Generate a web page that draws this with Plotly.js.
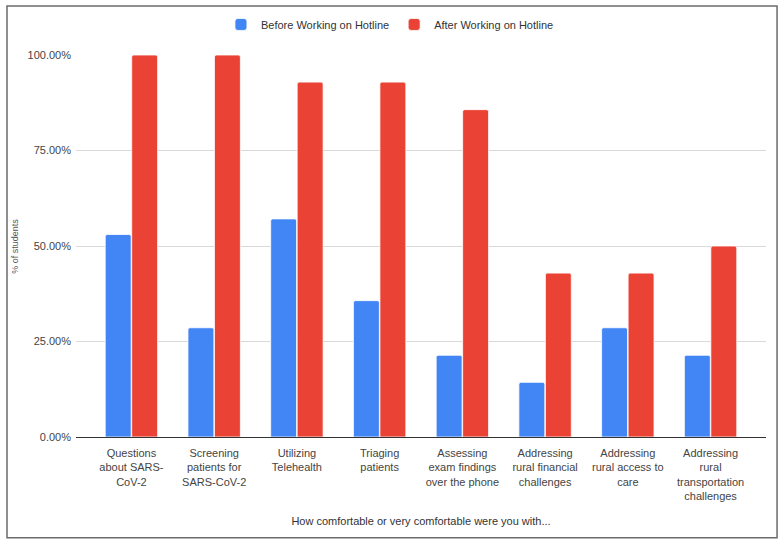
<!DOCTYPE html>
<html>
<head>
<meta charset="utf-8">
<script src="https://cdn.plot.ly/plotly-3.0.1.min.js"></script>
<style>
  html, body { margin: 0; padding: 0; background: #fff; }
  #chart { width: 784px; height: 546px; }
</style>
</head>
<body>
<div id="chart"></div>
<script>
  // 類別（x 軸標籤，已手動換行）
  var categories = [
    "Questions<br>about SARS-<br>CoV-2",
    "Screening<br>patients for<br>SARS-CoV-2",
    "Utilizing<br>Telehealth",
    "Triaging<br>patients",
    "Assessing<br>exam findings<br>over the phone",
    "Addressing<br>rural financial<br>challenges",
    "Addressing<br>rural access to<br>care",
    "Addressing<br>rural<br>transportation<br>challenges"
  ];
  var beforeValues = [0.53, 0.286, 0.571, 0.357, 0.214, 0.143, 0.286, 0.214];
  var afterValues  = [1.00, 1.00, 0.929, 0.929, 0.857, 0.429, 0.429, 0.50];
  var yTicks = [0, 0.25, 0.5, 0.75, 1.0];
  var yTickText = ["0.00%", "25.00%", "50.00%", "75.00%", "100.00%"];

  var FG = "#444";
  var xIdx = categories.map(function (c, i) { return i; });

  var traces = [
    { type: "bar", name: "Before Working on Hotline", x: xIdx, y: beforeValues,
      marker: { color: "#4285F4", line: { color: "#fff", width: 0.8 } }, hoverinfo: "y" },
    { type: "bar", name: "After Working on Hotline", x: xIdx, y: afterValues,
      marker: { color: "#EA4335", line: { color: "#fff", width: 0.8 } }, hoverinfo: "y" }
  ];

  var layout = {
    width: 784, height: 546,
    margin: { l: 76, r: 18, t: 55, b: 109, autoexpand: false },
    paper_bgcolor: "#fff", plot_bgcolor: "#fff",
    font: { family: "Liberation Sans, Arial, sans-serif", size: 11, color: FG },
    barmode: "group", bargap: 0.36, bargroupgap: 0.02, barcornerradius: 2,
    showlegend: true,
    legend: { orientation: "h", x: 0.455, xanchor: "center", y: 1.08, yanchor: "middle",
              bgcolor: "rgba(0,0,0,0)", font: { size: 11, color: "#333" }, itemwidth: 30 },
    xaxis: {
      range: [-0.67, 7.67], tickmode: "array", tickvals: xIdx, ticktext: categories,
      showgrid: false, zeroline: false, ticks: "", showline: false, ticklabelstandoff: 8,
      tickfont: { size: 11, color: FG },
      title: { text: "How comfortable or very comfortable were you with...", font: { size: 11, color: "#333" }, standoff: 16 }
    },
    yaxis: {
      range: [0, 1], tickmode: "array", tickvals: yTicks, ticktext: yTickText,
      showgrid: true, gridcolor: "#d9d9d9", zeroline: true, zerolinecolor: "#333", zerolinewidth: 1,
      ticks: "", ticklabelstandoff: 4, tickfont: { size: 11, color: FG }, fixedrange: true
    },
    annotations: [
      { text: "% of students", xref: "paper", yref: "paper", x: -0.099, y: 0.5,
        textangle: -90, showarrow: false, font: { size: 9, color: "#555" } }
    ],
    shapes: [
      { type: "rect", xref: "paper", yref: "paper", x0: -0.1, x1: 1.016, y0: -0.264, y1: 1.128,
        line: { color: "#6b6b6b", width: 1.5 }, fillcolor: "rgba(0,0,0,0)", layer: "below" }
    ]
  };

  Plotly.newPlot("chart", traces, layout, { displayModeBar: false, staticPlot: true });
</script>
</body>
</html>
